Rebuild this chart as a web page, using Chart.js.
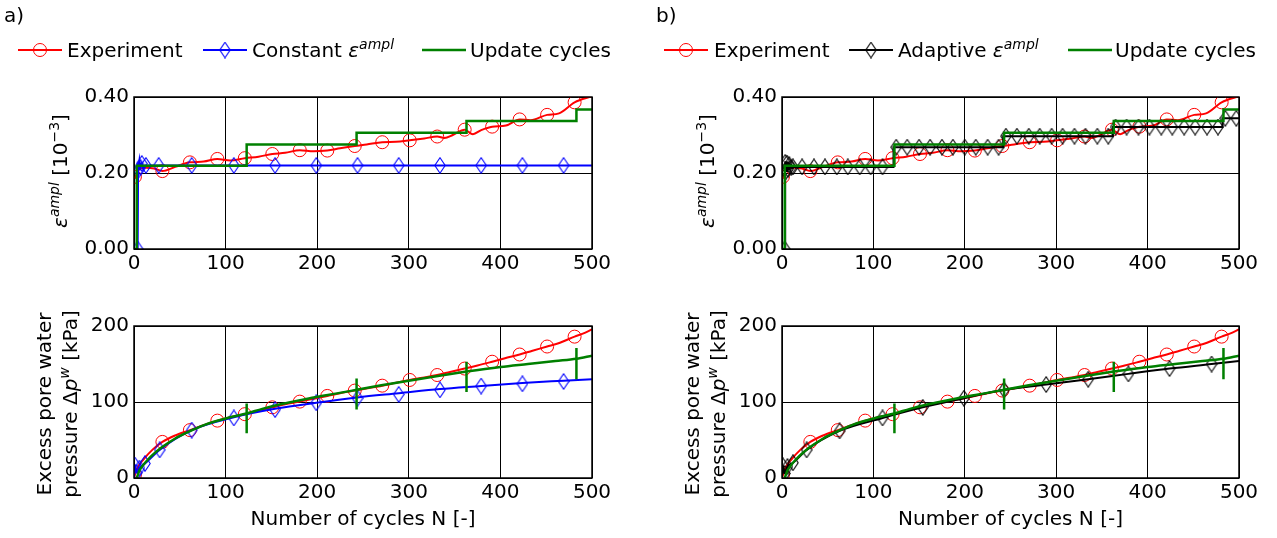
<!DOCTYPE html>
<html><head><meta charset="utf-8">
<script src="https://cdn.jsdelivr.net/npm/chart.js@4.4.1/dist/chart.umd.min.js"></script>
<style>
html,body{margin:0;padding:0;background:#fff;width:1277px;height:538px;overflow:hidden}
canvas{position:absolute}
</style></head><body>
<canvas id="aTop" width="640" height="290" style="left:0px;top:0px"></canvas>
<canvas id="aBot" width="640" height="248" style="left:0px;top:290px"></canvas>
<canvas id="bTop" width="637" height="290" style="left:640px;top:0px"></canvas>
<canvas id="bBot" width="637" height="248" style="left:640px;top:290px"></canvas>
<script>
// ---------- tick labels ----------
const nTicks = [0, 100, 200, 300, 400, 500];
const nTickLabels = ['0', '100', '200', '300', '400', '500'];
const epsTicks = [0, 0.2, 0.4];
const epsTickLabels = ['0.00', '0.20', '0.40'];
const pTicks = [0, 100, 200];
const pTickLabels = ['0', '100', '200'];

// ---------- Experiment (red) ----------
const expLineN   = [1, 4.5, 13, 22, 31, 45, 61, 76, 91, 105, 121, 136, 151, 165, 181, 196, 211, 225, 241, 254, 271, 286, 301, 317, 331, 339, 348, 361, 370, 379, 391, 406, 421, 433, 451, 464, 481, 500];
const expLineEps = [0.185, 0.207, 0.214, 0.212, 0.205, 0.216, 0.228, 0.230, 0.237, 0.233, 0.239, 0.243, 0.250, 0.253, 0.260, 0.257, 0.259, 0.265, 0.271, 0.275, 0.281, 0.282, 0.286, 0.291, 0.296, 0.292, 0.300, 0.314, 0.302, 0.313, 0.322, 0.325, 0.341, 0.339, 0.353, 0.357, 0.386, 0.402];
const expMarkN   = [1, 31, 61, 91, 121, 151, 181, 211, 241, 271, 301, 331, 361, 391, 421, 451, 481];
const expMarkEps = [0.190, 0.205, 0.228, 0.237, 0.239, 0.250, 0.260, 0.259, 0.271, 0.281, 0.286, 0.296, 0.314, 0.322, 0.341, 0.353, 0.386];
const expPLineN  = [0, 2, 5, 10, 20, 31, 45, 61, 75, 91, 105, 121, 135, 151, 165, 181, 195, 211, 225, 241, 255, 271, 285, 301, 315, 331, 345, 361, 375, 391, 405, 421, 435, 451, 465, 481, 490, 500];
const expPLineP  = [0, 8, 16, 24, 37, 47.5, 56, 63, 69, 75.5, 80, 84, 88.5, 93, 97, 100.5, 104, 108, 111.5, 115, 118, 121.5, 125, 129, 132, 135.5, 139.5, 144, 148, 153, 157.5, 162.5, 167.5, 173, 178, 186, 190, 195.5];
const expMarkP   = [4, 47.5, 63, 75.5, 84, 93, 100.5, 108, 115, 121.5, 129, 135.5, 144, 153, 162.5, 173, 186];

// ---------- Update cycles (green) ----------
const updN   = [0, 3, 123, 243, 363, 483, 500];
const updEps = [0, 0.219, 0.275, 0.306, 0.337, 0.367, 0.367];
const updPN  = [3, 6, 10, 15, 20, 30, 45, 60, 75, 90, 105, 123, 140, 160, 180, 200, 220, 243, 270, 300, 330, 363, 400, 430, 460, 483, 500];
const updPP  = [0, 10, 17, 24, 30, 40, 52, 61, 69, 75, 80, 85, 91, 97, 102, 107, 111, 116, 122, 128, 134, 140, 146, 150, 154, 157, 161];
const spikeN  = [123, 243, 363, 483];
const spikeLo = [59, 90, 113, 130];
const spikeHi = [98, 131, 153, 171];

// ---------- Constant eps_ampl (blue) ----------
const constLineN   = [0, 4, 4.5, 5, 6, 7, 8.5, 10, 13, 27, 63, 500];
const constLineEps = [0, 0, 0.225, 0.208, 0.232, 0.215, 0.225, 0.215, 0.22, 0.22, 0.22, 0.22];
const constMarkN   = [4, 5, 7, 8.5, 13, 27, 63, 109, 154, 199, 244, 289, 334, 379, 424, 469];
const constMarkEps = [0, 0.208, 0.215, 0.225, 0.22, 0.22, 0.22, 0.22, 0.22, 0.22, 0.22, 0.22, 0.22, 0.22, 0.22, 0.22];
const constPLineN  = [0, 1, 3, 6, 12, 28, 63, 109, 154, 199, 244, 289, 334, 379, 424, 469, 500];
const constPLineP  = [0, 17, 7, 13, 19, 37, 63, 80, 91, 99, 106, 111.5, 117, 121, 125, 128, 130];
const constPMarkN  = [1, 3, 6, 12, 28, 63, 109, 154, 199, 244, 289, 334, 379, 424, 469];
const constPMarkP  = [17, 7, 13, 19, 37, 63, 79, 90, 99, 105, 110, 116, 121, 124, 127];

// ---------- Adaptive eps_ampl (black) ----------
const adaptLineN   = [0, 3, 3.5, 4.5, 5.5, 6.5, 8, 10, 12, 122, 242, 362, 482, 500];
const adaptLineEps = [0, 0, 0.228, 0.205, 0.226, 0.21, 0.222, 0.214, 0.216, 0.268, 0.297, 0.321, 0.344, 0.344];
const adaptMarkN   = [3, 3.5, 4.5, 5.5, 6.5, 8, 10, 12, 22, 35, 47, 60, 72, 85, 97, 110, 125, 137, 150, 162, 175, 187, 200, 212, 225, 237, 245, 257, 270, 282, 295, 307, 320, 332, 345, 357, 365, 377, 390, 402, 415, 427, 440, 452, 465, 477, 485, 497];
const adaptMarkEps = [0, 0.228, 0.205, 0.226, 0.21, 0.222, 0.214, 0.216, 0.216, 0.216, 0.216, 0.216, 0.216, 0.216, 0.216, 0.216, 0.268, 0.268, 0.268, 0.268, 0.268, 0.268, 0.268, 0.268, 0.268, 0.268, 0.297, 0.297, 0.297, 0.297, 0.297, 0.297, 0.297, 0.297, 0.297, 0.297, 0.321, 0.321, 0.321, 0.321, 0.321, 0.321, 0.321, 0.321, 0.321, 0.321, 0.344, 0.344];
const adaptPLineN  = [0, 1, 3, 6, 12, 27, 63, 110, 154, 199, 243, 289, 335, 379, 424, 470, 500];
const adaptPLineP  = [0, 16, 6, 15, 20, 37, 62, 79, 93, 105, 116, 123, 130, 137, 144, 150, 154];
const adaptPMarkN  = [1, 3, 6, 12, 27, 63, 110, 154, 199, 243, 289, 335, 379, 424, 470];
const adaptPMarkP  = [16, 6, 15, 20, 37, 62, 79, 93, 105, 116, 123, 130, 137, 144, 150];

// ---------- styling ----------
const FONT = '"DejaVu Sans", sans-serif';
const RED = '#ff0000', BLUE = '#0000ff', GREEN = '#008000', BLACK = '#000000';

function diamondImg(color) {
  const c = document.createElement('canvas');
  c.width = 12; c.height = 17;
  const g = c.getContext('2d');
  g.strokeStyle = color; g.lineWidth = 1.1;
  g.beginPath(); g.moveTo(6, 0.8); g.lineTo(11.2, 8.5); g.lineTo(6, 16.2); g.lineTo(0.8, 8.5); g.closePath(); g.stroke();
  return c;
}
const blueDiamond = diamondImg(BLUE), blackDiamond = diamondImg(BLACK);

const pts = (xs, ys) => xs.map((x, i) => ({x: x, y: ys[i]}));
function spikes() {
  const d = [];
  spikeN.forEach((n, i) => { d.push({x: n, y: spikeLo[i]}, {x: n, y: spikeHi[i]}, {x: n, y: null}); });
  return d;
}

function lineDs(data, color, width, order, extra) {
  return Object.assign({data: data, borderColor: color, borderWidth: width, pointRadius: 0, fill: false,
    cubicInterpolationMode: 'monotone', order: order}, extra || {});
}
function circleDs(data, order) {
  return {data: data, showLine: false, pointStyle: 'circle', pointRadius: 6.5, pointBorderColor: RED,
    pointBackgroundColor: 'rgba(0,0,0,0)', pointBorderWidth: 1, order: order};
}
function diamondDs(data, img, order) {
  return {data: data, showLine: false, pointStyle: img, pointRadius: 6, order: order};
}

function rich(ctx, segs, x, y, draw) {
  let w = 0;
  segs.forEach(s => {
    ctx.font = (s.it ? 'italic ' : '') + (s.sup ? 14 : 20) + 'px ' + FONT;
    if (draw) ctx.fillText(s.t, x + w, y - (s.sup ? 8 : 0));
    w += ctx.measureText(s.t).width;
  });
  return w;
}

const epsTitle = [{t: 'ε', it: true}, {t: 'ampl', it: true, sup: true}, {t: ' [10'}, {t: '−3', sup: true}, {t: ']'}];
const pTitle1 = [{t: 'Excess pore water'}];
const pTitle2 = [{t: 'pressure Δ'}, {t: 'p', it: true}, {t: 'w', it: true, sup: true}, {t: ' [kPa]'}];

function yTitlePlugin(lines, cy) {
  return {id: 'ytitle', afterDraw(chart) {
    const ctx = chart.ctx;
    lines.forEach(l => {
      ctx.save(); ctx.fillStyle = '#000'; ctx.textBaseline = 'alphabetic'; ctx.textAlign = 'left';
      ctx.translate(l.x, cy); ctx.rotate(-Math.PI / 2);
      const w = rich(ctx, l.segs, 0, 0, false);
      rich(ctx, l.segs, -w / 2, 0, true);
      ctx.restore();
    });
  }};
}
const framePlugin = {id: 'frame', afterDatasetsDraw(chart) {
  const a = chart.chartArea, ctx = chart.ctx;
  ctx.save(); ctx.strokeStyle = '#000'; ctx.lineWidth = 1.5;
  ctx.strokeRect(a.left, a.top, a.right - a.left, a.bottom - a.top); ctx.restore();
}};
function legendPlugin(panel, items) {
  return {id: 'toplegend', afterDraw(chart) {
    const ctx = chart.ctx;
    ctx.save(); ctx.fillStyle = '#000'; ctx.textBaseline = 'alphabetic'; ctx.textAlign = 'left';
    ctx.font = '20px ' + FONT; ctx.fillText(panel.text, panel.x, 22);
    items.forEach(it => {
      ctx.strokeStyle = it.color; ctx.lineWidth = it.width;
      ctx.beginPath(); ctx.moveTo(it.x0, 50); ctx.lineTo(it.x0 + 44, 50); ctx.stroke();
      const cx = it.x0 + 22;
      if (it.marker === 'circle') {
        ctx.lineWidth = 1; ctx.beginPath(); ctx.arc(cx, 50, 6.5, 0, Math.PI * 2); ctx.stroke();
      } else if (it.marker) {
        ctx.drawImage(it.marker, cx - it.marker.width / 2, 50 - it.marker.height / 2);
      }
      ctx.fillStyle = '#000';
      rich(ctx, it.label, it.tx, 57, true);
    });
    ctx.restore();
  }};
}

function options(c) {
  const tickFont = {family: FONT, size: 20};
  return {
    responsive: false, animation: false, devicePixelRatio: 1,
    layout: {padding: {top: c.padTop, right: c.padRight, left: 0, bottom: 0}},
    plugins: {legend: {display: false}, tooltip: {enabled: false}},
    scales: {
      x: {type: 'linear', min: 0, max: 500,
        afterBuildTicks: s => { s.ticks = nTicks.map(v => ({value: v})); },
        afterFit: s => { s.height = c.xH; },
        grid: {color: '#000', lineWidth: 1, drawTicks: false}, border: {display: false},
        ticks: {color: '#000', font: tickFont, padding: 3, maxRotation: 0, autoSkip: false,
          callback: v => nTickLabels[nTicks.indexOf(v)]},
        title: c.xTitle ? {display: true, text: 'Number of cycles N [-]', color: '#000', font: {family: FONT, size: 20},
          padding: {top: 0, bottom: 6}} : {display: false}},
      y: {type: 'linear', min: c.yTicks[0], max: c.yTicks[c.yTicks.length - 1],
        afterBuildTicks: s => { s.ticks = c.yTicks.map(v => ({value: v})); },
        afterFit: s => { s.width = c.yW; },
        grid: {color: '#000', lineWidth: 1, drawTicks: false}, border: {display: false},
        ticks: {color: '#000', font: tickFont, padding: 5, autoSkip: false,
          callback: v => c.yLabels[c.yTicks.indexOf(v)]}}
    }
  };
}

// ---------- panel a, top ----------
new Chart(document.getElementById('aTop'), {
  type: 'line',
  data: {datasets: [
    lineDs(pts(updN, updEps), GREEN, 2.5, 1, {stepped: 'before'}),
    lineDs(pts(constLineN, constLineEps), BLUE, 2, 2, {cubicInterpolationMode: 'default', tension: 0}),
    diamondDs(pts(constMarkN, constMarkEps), blueDiamond, 2),
    lineDs(pts(expLineN, expLineEps), RED, 2, 3),
    circleDs(pts(expMarkN, expMarkEps), 3)
  ]},
  options: options({padTop: 97, padRight: 48, xH: 41, yW: 134, yTicks: epsTicks, yLabels: epsTickLabels, xTitle: false}),
  plugins: [framePlugin, yTitlePlugin([{x: 67, segs: epsTitle}], 171),
    legendPlugin({text: 'a)', x: 4}, [
      {x0: 18, tx: 67, color: RED, width: 2, marker: 'circle', label: [{t: 'Experiment'}]},
      {x0: 203, tx: 252, color: BLUE, width: 2, marker: blueDiamond, label: [{t: 'Constant '}, {t: 'ε', it: true}, {t: 'ampl', it: true, sup: true}]},
      {x0: 422, tx: 470, color: GREEN, width: 2.5, marker: null, label: [{t: 'Update cycles'}]}
    ])]
});

// ---------- panel a, bottom ----------
new Chart(document.getElementById('aBot'), {
  type: 'line',
  data: {datasets: [
    lineDs(pts(updPN, updPP), GREEN, 2.5, 1),
    lineDs(spikes(), GREEN, 2.5, 1, {cubicInterpolationMode: 'default', tension: 0, spanGaps: false}),
    lineDs(pts(constPLineN, constPLineP), BLUE, 2, 2),
    diamondDs(pts(constPMarkN, constPMarkP), blueDiamond, 2),
    lineDs(pts(expPLineN, expPLineP), RED, 2, 3),
    circleDs(pts(expMarkN, expMarkP), 3)
  ]},
  options: options({padTop: 36, padRight: 48, xH: 60, yW: 134, yTicks: pTicks, yLabels: pTickLabels, xTitle: true}),
  plugins: [framePlugin, yTitlePlugin([{x: 51, segs: pTitle1}, {x: 77, segs: pTitle2}], 114)]
});

// ---------- panel b, top ----------
new Chart(document.getElementById('bTop'), {
  type: 'line',
  data: {datasets: [
    lineDs(pts(updN, updEps), GREEN, 2.5, 1, {stepped: 'before'}),
    lineDs(pts(adaptLineN, adaptLineEps), BLACK, 2, 2, {stepped: 'before'}),
    diamondDs(pts(adaptMarkN, adaptMarkEps), blackDiamond, 2),
    lineDs(pts(expLineN, expLineEps), RED, 2, 3),
    circleDs(pts(expMarkN, expMarkEps), 3)
  ]},
  options: options({padTop: 97, padRight: 38, xH: 41, yW: 142, yTicks: epsTicks, yLabels: epsTickLabels, xTitle: false}),
  plugins: [framePlugin, yTitlePlugin([{x: 74, segs: epsTitle}], 171),
    legendPlugin({text: 'b)', x: 16}, [
      {x0: 24, tx: 74, color: RED, width: 2, marker: 'circle', label: [{t: 'Experiment'}]},
      {x0: 209, tx: 258, color: BLACK, width: 2, marker: blackDiamond, label: [{t: 'Adaptive '}, {t: 'ε', it: true}, {t: 'ampl', it: true, sup: true}]},
      {x0: 428, tx: 475, color: GREEN, width: 2.5, marker: null, label: [{t: 'Update cycles'}]}
    ])]
});

// ---------- panel b, bottom ----------
new Chart(document.getElementById('bBot'), {
  type: 'line',
  data: {datasets: [
    lineDs(pts(updPN, updPP), GREEN, 2.5, 1),
    lineDs(spikes(), GREEN, 2.5, 1, {cubicInterpolationMode: 'default', tension: 0, spanGaps: false}),
    lineDs(pts(adaptPLineN, adaptPLineP), BLACK, 2, 2),
    diamondDs(pts(adaptPMarkN, adaptPMarkP), blackDiamond, 2),
    lineDs(pts(expPLineN, expPLineP), RED, 2, 3),
    circleDs(pts(expMarkN, expMarkP), 3)
  ]},
  options: options({padTop: 36, padRight: 38, xH: 60, yW: 142, yTicks: pTicks, yLabels: pTickLabels, xTitle: true}),
  plugins: [framePlugin, yTitlePlugin([{x: 59, segs: pTitle1}, {x: 85, segs: pTitle2}], 114)]
});
</script>
</body></html>
